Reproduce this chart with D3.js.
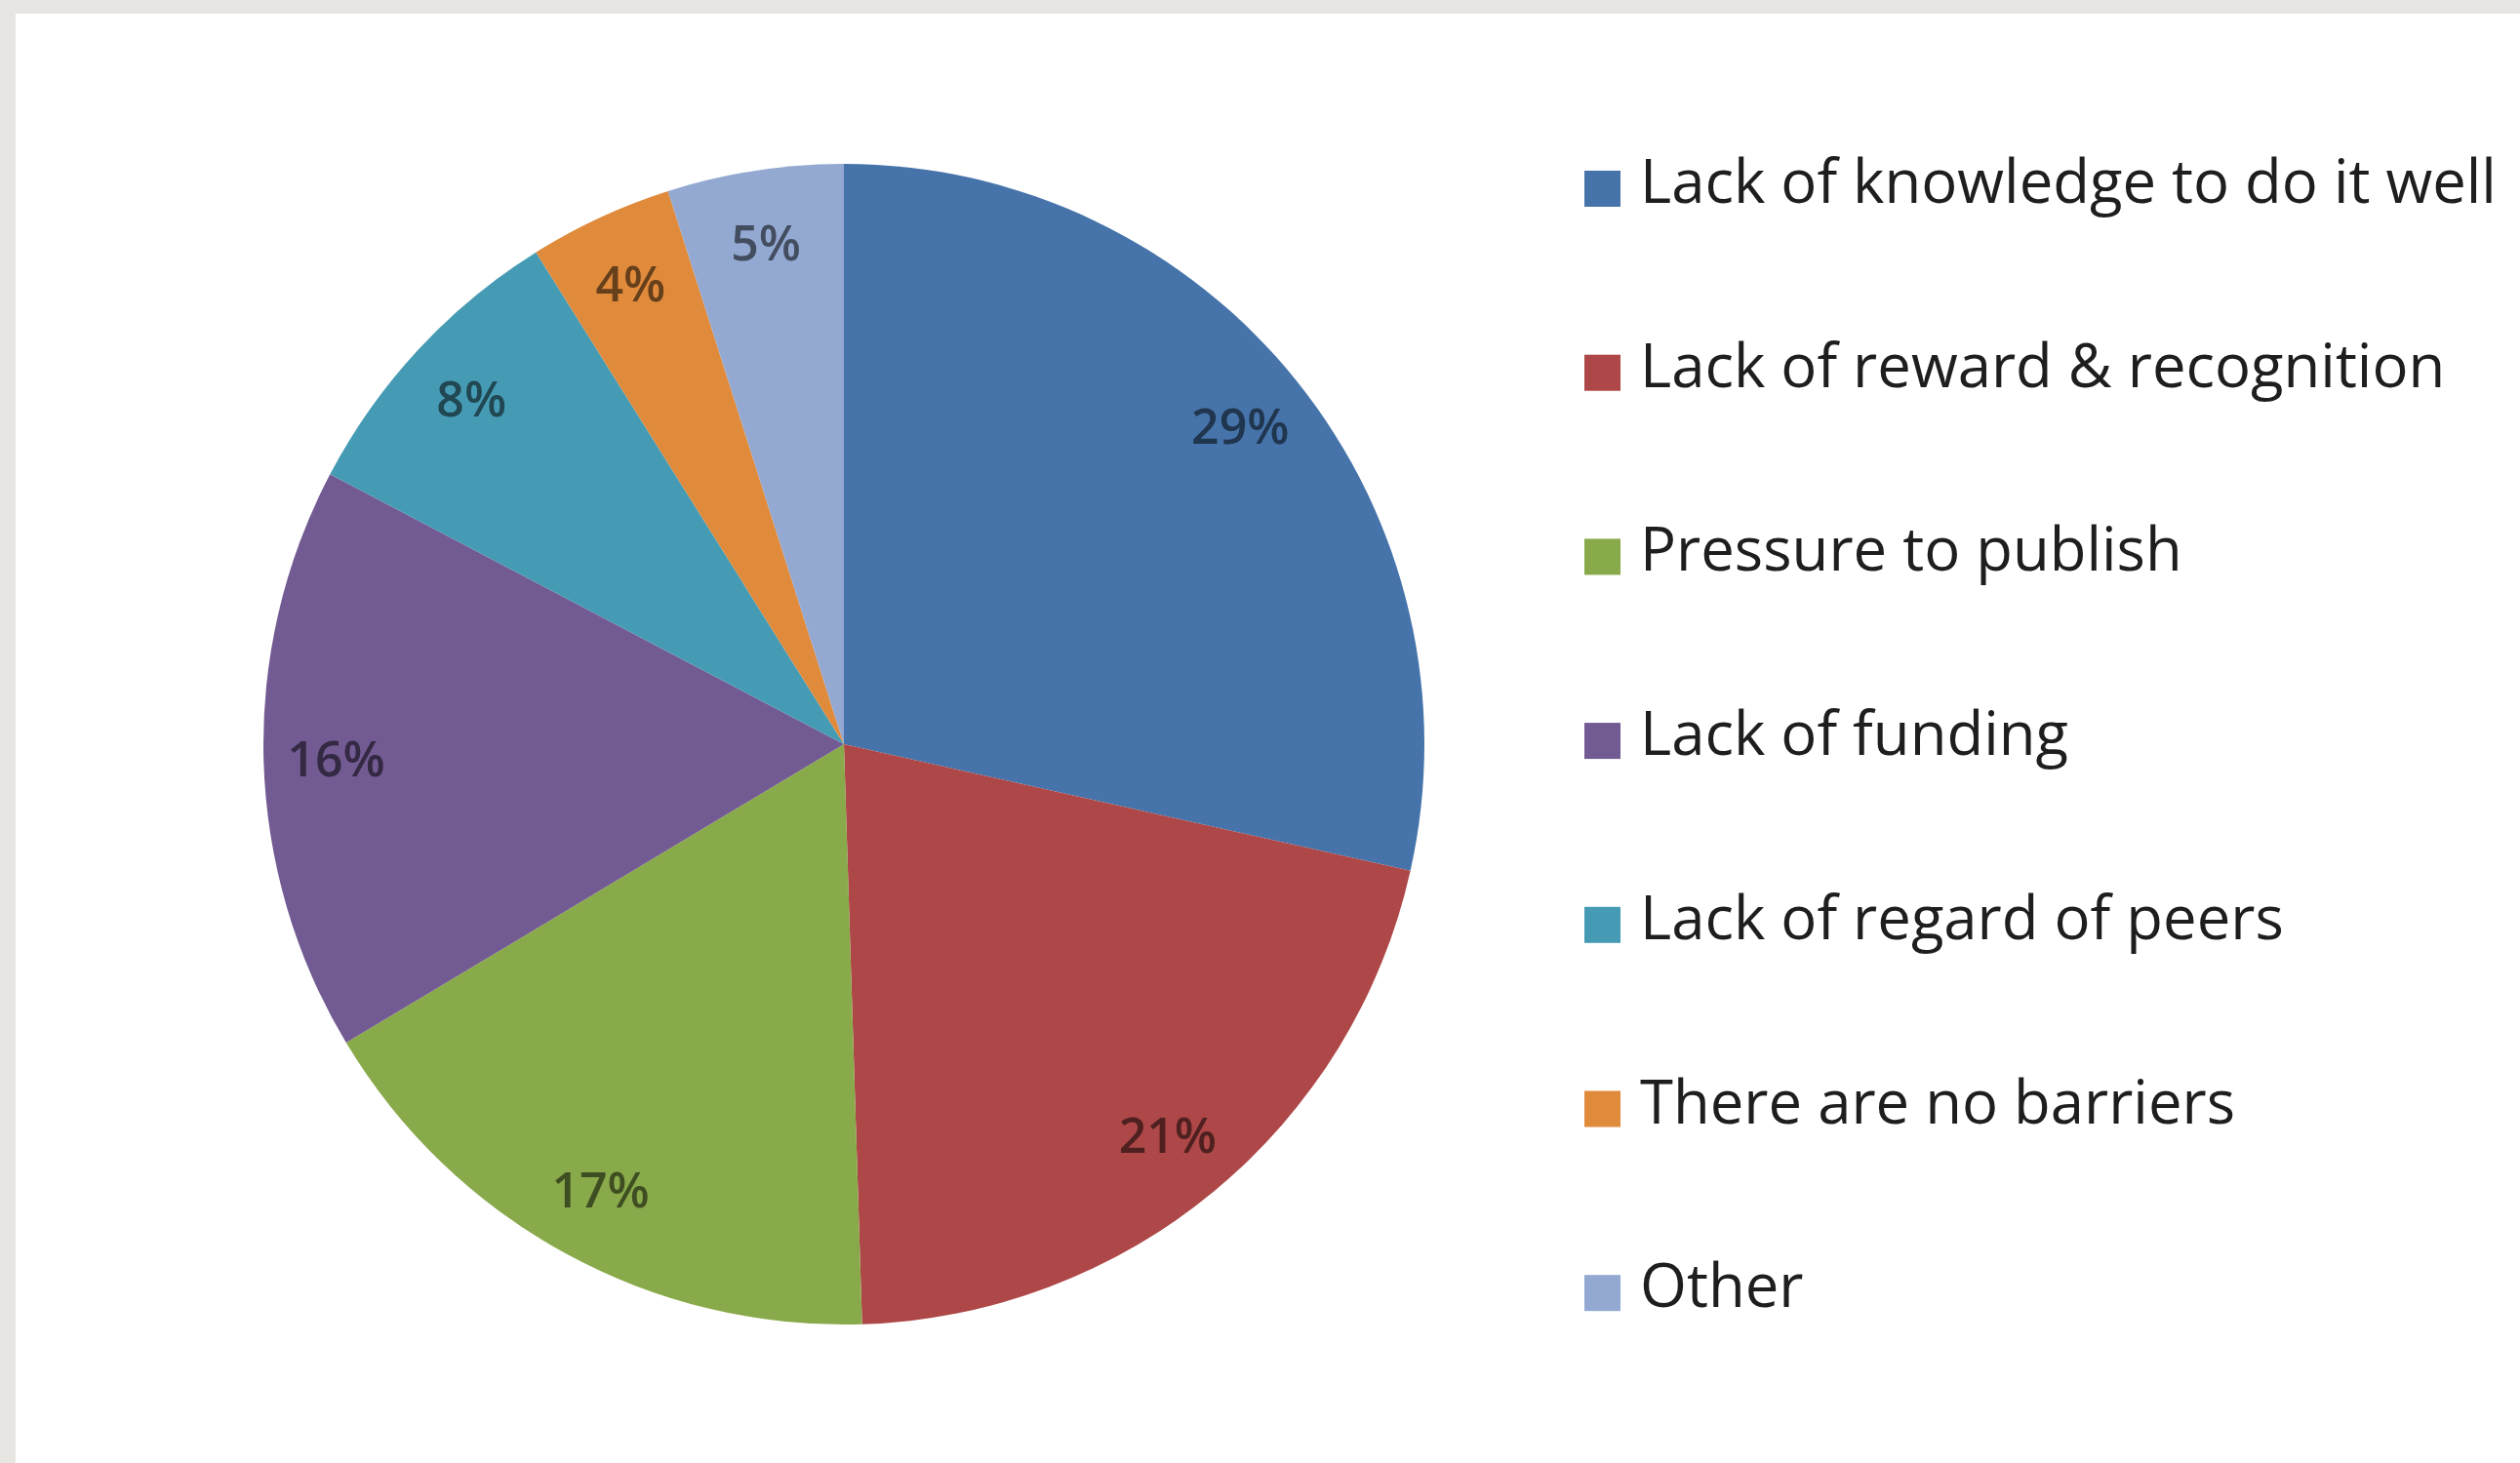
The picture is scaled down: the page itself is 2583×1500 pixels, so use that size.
<!DOCTYPE html>
<html>
<head>
<meta charset="utf-8">
<script src="https://cdn.jsdelivr.net/npm/d3@7"></script>
<style>
  html, body { margin: 0; padding: 0; background: #e8e6e3; }
  svg { display: block; }
</style>
</head>
<body>
<div id="chart"></div>
<script>

var categories = ["Lack of knowledge to do it well", "Lack of reward & recognition", "Pressure to publish",
                  "Lack of funding", "Lack of regard of peers", "There are no barriers", "Other"];
var shares = [28.5, 21.0, 16.9, 16.3, 8.4, 4.0, 4.9];
var sliceColors = ["#4674aa", "#ae4747", "#89aa4a", "#725a92", "#469bb4", "#e08a3c", "#93a9d2"];

var divWidth = 2583, divHeight = 1500;

var svg = d3.select("#chart").append("svg")
    .attr("width", divWidth)
    .attr("height", divHeight);

// white panel, grey strip top and left
svg.append("rect")
    .attr("x", 16).attr("y", 14)
    .attr("width", divWidth - 16).attr("height", divHeight - 14)
    .attr("fill", "#ffffff");

var cx = 865, cy = 763, radius = 595;

var color = d3.scaleOrdinal().domain(categories).range(sliceColors);

var data = categories.map(function(c, i) { return {name: c, value: shares[i]}; });

var pie = d3.pie()
    .sort(null)
    .value(function(d) { return d.value; });

var arc = d3.arc().innerRadius(0).outerRadius(radius);
var labelArc = d3.arc().innerRadius(radius * 0.875).outerRadius(radius * 0.875);

var g = svg.append("g").attr("transform", "translate(" + cx + "," + cy + ")");

var arcs = pie(data);

g.selectAll("path.slice")
    .data(arcs)
  .enter().append("path")
    .attr("class", "slice")
    .attr("d", arc)
    .attr("fill", function(d) { return color(d.data.name); });

g.selectAll("text.pct")
    .data(arcs)
  .enter().append("text")
    .attr("class", "pct")
    .attr("transform", function(d) { return "translate(" + labelArc.centroid(d) + ")"; })
    .attr("text-anchor", "middle")
    .attr("dy", "0.36em")
    .attr("font-family", "'Open Sans', sans-serif")
    .attr("font-size", 50)
    .attr("font-weight", 600)
    .attr("fill", function(d) { return d3.color(color(d.data.name)).darker(2.2); })
    .text(function(d) { return Math.round(d.data.value) + "%"; });

// legend
var legendX = 1624, legendY0 = 208, legendStep = 188.7, box = 37;

var legend = svg.append("g").attr("class", "legend");

var item = legend.selectAll("g")
    .data(categories)
  .enter().append("g")
    .attr("transform", function(d, i) { return "translate(" + legendX + "," + (legendY0 + i * legendStep) + ")"; });

item.append("rect")
    .attr("x", 0).attr("y", -box + 4)
    .attr("width", box).attr("height", box)
    .attr("fill", function(d) { return color(d); });

var legendText = item.append("text")
    .attr("x", 57)
    .attr("y", 0)
    .attr("font-family", "'Open Sans', sans-serif")
    .attr("font-size", 62)
    .attr("fill", "#1e1e1e")
    .text(function(d) { return d; });

// scale legend font so the longest line spans the same width as in the picture
var w = legendText.node().getComputedTextLength();
var fs = 62 * 878 / w;
legendText.attr("font-size", fs);

</script>
</body>
</html>
